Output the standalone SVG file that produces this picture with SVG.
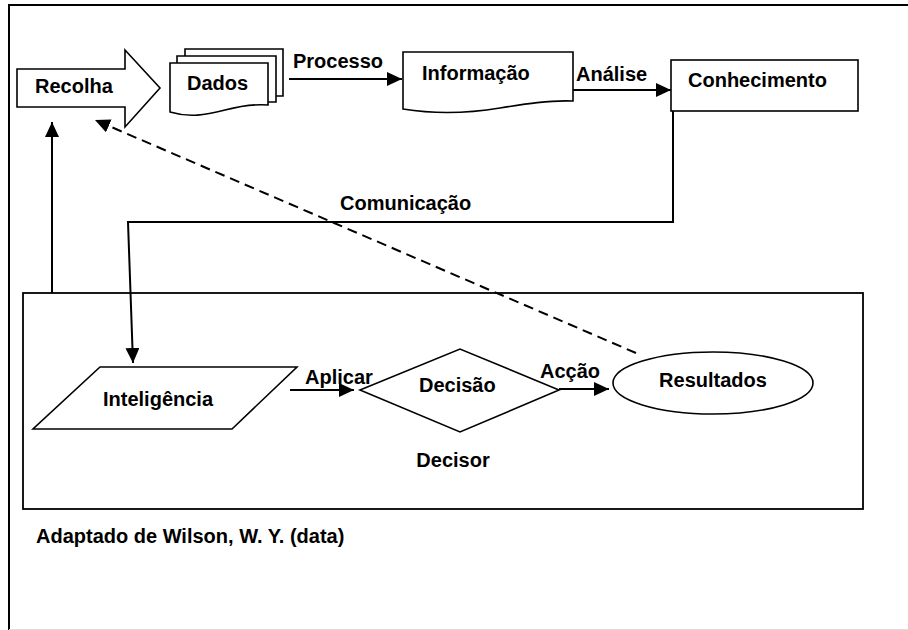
<svg xmlns="http://www.w3.org/2000/svg" width="908" height="630" viewBox="0 0 908 630">
  <style>
    .shape { fill: #ffffff; stroke: #000000; stroke-width: 1.6; stroke-linejoin: miter; }
    .conn { fill: none; stroke: #000000; stroke-width: 2; }
    .dash { fill: none; stroke: #000000; stroke-width: 2; stroke-dasharray: 10 6; }
    text { font-family: "Liberation Sans", Arial, sans-serif; font-weight: bold; font-size: 20px; fill: #000000; }
  </style>
  <defs>
    <marker id="arrow" markerUnits="userSpaceOnUse" markerWidth="16" markerHeight="14" refX="15" refY="7" orient="auto">
      <path d="M0,0 L15,7 L0,14 Z" fill="#000000"/>
    </marker>
  </defs>

  <rect width="908" height="630" fill="#ffffff"/>

  <!-- page frame -->
  <g id="frame">
    <path d="M9,630 L9,5 L908,5" fill="none" stroke="#000000" stroke-width="2"/>
    <line x1="9" y1="629.5" x2="908" y2="629.5" stroke="#dddddd" stroke-width="1"/>
  </g>

  <!-- decision-maker container -->
  <g id="decisor">
    <rect x="23" y="293" width="840" height="216" fill="none" stroke="#000000" stroke-width="1.8"/>
    <text x="453" y="467" text-anchor="middle">Decisor</text>
  </g>

  <!-- connectors -->
  <g id="connectors">
    <line class="conn" x1="289" y1="79" x2="402" y2="79" marker-end="url(#arrow)"/>
    <line class="conn" x1="573" y1="90" x2="671" y2="90" marker-end="url(#arrow)"/>
    <path class="conn" d="M673,111 L673,222 L128,222 L133,363" marker-end="url(#arrow)"/>
    <line class="conn" x1="290" y1="390" x2="354" y2="390" marker-end="url(#arrow)"/>
    <line class="conn" x1="559" y1="389" x2="609" y2="389" marker-end="url(#arrow)"/>
    <line class="conn" x1="52" y1="293" x2="52" y2="122" marker-end="url(#arrow)"/>
    <line class="dash" x1="636" y1="353" x2="95" y2="120" marker-end="url(#arrow)"/>
  </g>

  <!-- edge labels -->
  <g id="labels">
    <text x="293" y="68">Processo</text>
    <text x="576" y="81">Análise</text>
    <text x="340" y="210">Comunicação</text>
    <text x="305" y="384">Aplicar</text>
    <text x="540" y="378">Acção</text>
  </g>

  <g id="recolha">
    <path class="shape" d="M17,69 L125,69 L125,50 L160,88 L125,127 L125,107 L17,107 Z"/>
    <text x="35" y="93">Recolha</text>
  </g>

  <g id="dados">
    <path class="shape" d="M185,49 L283,49 L283,96 L185,96 Z"/>
    <path class="shape" d="M177,56 L276,56 L276,102 L177,102 Z"/>
    <path class="shape" d="M170,63 L268,63 L268,105 C255,104 240,106 225,110 C205,115 190,118 170,112 Z"/>
    <text x="187" y="90">Dados</text>
  </g>

  <g id="informacao">
    <path class="shape" d="M403,52 L573,52 L573,101 C550,100 525,104 500,108 C470,113 440,115 403,109 Z"/>
    <text x="422" y="80">Informação</text>
  </g>

  <g id="conhecimento">
    <rect class="shape" x="671" y="60" width="187" height="51"/>
    <text x="688" y="87">Conhecimento</text>
  </g>

  <g id="inteligencia">
    <path class="shape" d="M100,367 L297,367 L232,429 L33,429 Z"/>
    <text x="103" y="406">Inteligência</text>
  </g>

  <g id="decisao">
    <path class="shape" d="M360,390 L460,349 L559,390 L460,432 Z"/>
    <text x="419" y="392">Decisão</text>
  </g>

  <g id="resultados">
    <ellipse class="shape" cx="713" cy="383" rx="100" ry="31"/>
    <text x="713" y="387" text-anchor="middle">Resultados</text>
  </g>

  <text x="36" y="543">Adaptado de Wilson, W. Y. (data)</text>
</svg>
